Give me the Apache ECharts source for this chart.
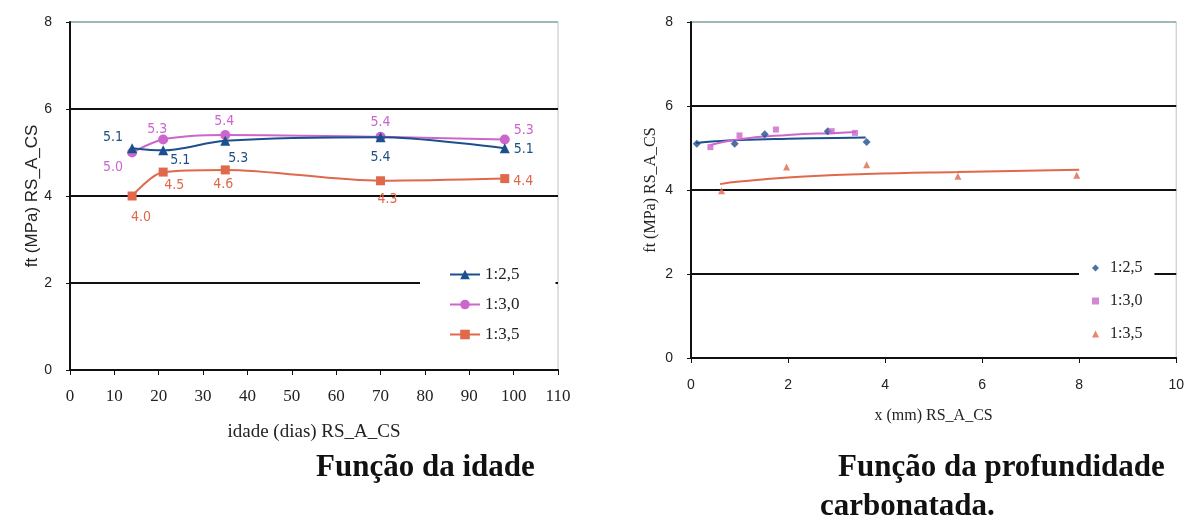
<!DOCTYPE html>
<html>
<head>
<meta charset="utf-8">
<script src="https://cdn.jsdelivr.net/npm/echarts@6/dist/echarts.min.js"></script>
<style>
  html, body { margin: 0; padding: 0; background: #fff; }
  #chart { width: 1187px; height: 517px; }
</style>
</head>
<body>
<div id="chart"></div>
<script>
// left chart: ft vs idade (dias)
const idade = [14, 21, 35, 70, 98];
const ageTicks = [0, 10, 20, 30, 40, 50, 60, 70, 80, 90, 100, 110];
const age25 = [5.1, 5.05, 5.27, 5.35, 5.1];
const age30 = [5.0, 5.3, 5.4, 5.36, 5.3];
const age35 = [4.0, 4.55, 4.6, 4.35, 4.4];
const ageLabels25 = ['5.1', '5.1', '5.3', '5.4', '5.1'];
const ageLabels30 = ['5.0', '5.3', '5.4', '5.4', '5.3'];
const ageLabels35 = ['4.0', '4.5', '4.6', '4.3', '4.4'];

// right chart: ft vs x (mm), measured points
const depth25 = [0.12, 0.9, 1.52, 2.82, 3.62];
const ft25 = [5.1, 5.1, 5.33, 5.4, 5.14];
const depth30 = [0.4, 1.0, 1.75, 2.9, 3.38];
const ft30 = [5.02, 5.3, 5.44, 5.4, 5.36];
const depth35 = [0.63, 1.97, 3.62, 5.5, 7.95];
const ft35 = [3.98, 4.55, 4.6, 4.33, 4.35];

// trend lines
const trendX25 = [0.1, 0.5, 1.0, 2.0, 3.0, 3.6];
const trendY25 = [5.12, 5.16, 5.19, 5.22, 5.24, 5.25];
const trendX30 = [0.4, 1.0, 2.0, 3.0, 3.4];
const trendY30 = [5.07, 5.21, 5.31, 5.36, 5.38];
const trendX35 = [0.6, 1.0, 2.0, 3.6, 5.5, 8.0];
const trendY35 = [4.14, 4.2, 4.3, 4.38, 4.43, 4.48];

const names = ['1:2,5', '1:3,0', '1:3,5'];
const blue = '#1c4f8e';
const pink = '#cc66cc';
const orange = '#e0684b';

// where each data label sits around its point
const pos25 = [['left', [0, -11]], ['right', [-2, 10]], ['bottom', [13, 2]], ['bottom', [0, 4]], ['right', [0, 1]]];
const pos30 = [['left', [0, 15]], ['top', [-6, 6]], ['top', [-1, 2]], ['top', [0, 2]], ['right', [0, -9]]];
const pos35 = [['bottom', [9, 6]], ['bottom', [11, -2]], ['bottom', [-2, -1]], ['bottom', [7, 3]], ['right', [0, 3]]];

function pairs(xs, ys) {
    return xs.map((x, i) => [x, ys[i]]);
}

function labelled(xs, ys, texts, positions) {
    return xs.map((x, i) => ({
        value: [x, ys[i]],
        label: { position: positions[i][0], offset: positions[i][1], formatter: texts[i] }
    }));
}

const chart = echarts.init(document.getElementById('chart'));

const yAxisBase = {
    type: 'value',
    min: 0,
    max: 8,
    interval: 2,
    name: 'ft (MPa) RS_A_CS',
    nameLocation: 'middle',
    axisLine: { show: true, lineStyle: { color: '#111', width: 2 } },
    axisTick: { show: true, length: 4, lineStyle: { color: '#111' } },
    axisLabel: { color: '#222', fontFamily: 'Liberation Sans', fontSize: 14, margin: 18 },
    splitLine: { show: true, lineStyle: { color: ['#111', '#111', '#111', '#111', '#9fb8b8'], width: 2 } }
};

const lineLabel = (color) => ({
    show: true,
    color: color,
    fontFamily: 'DejaVu Sans Condensed',
    fontSize: 14,
    distance: 4
});

const titleFont = { fontFamily: 'Liberation Serif', fontWeight: 'bold', fontSize: 31, color: '#111' };

const option = {
    animation: false,
    title: [
        { text: 'Função da idade', left: 311, top: 447, textStyle: titleFont },
        { text: 'Função da profundidade', left: 833, top: 447, textStyle: titleFont },
        { text: 'carbonatada.', left: 815, top: 486, textStyle: titleFont }
    ],
    grid: [
        { left: 70, top: 22, width: 488, height: 348, show: true, borderColor: '#b8c4c4', borderWidth: 1 },
        { left: 691, top: 22, width: 488, height: 336, show: true, borderColor: '#b8c4c4', borderWidth: 1 }
    ],
    xAxis: [
        {
            gridIndex: 0, type: 'value', min: ageTicks[0], max: ageTicks[ageTicks.length - 1], interval: 10,
            name: 'idade (dias) RS_A_CS', nameLocation: 'middle', nameGap: 53,
            nameTextStyle: { fontFamily: 'Liberation Serif', fontSize: 19, color: '#222' },
            axisLine: { lineStyle: { color: '#111', width: 2 } },
            axisTick: { length: 5, lineStyle: { color: '#111' } },
            axisLabel: { color: '#222', fontFamily: 'Liberation Serif', fontSize: 17, margin: 18 },
            splitLine: { show: false }
        },
        {
            gridIndex: 1, type: 'value', min: 0, max: 10, interval: 2,
            name: 'x (mm) RS_A_CS', nameLocation: 'middle', nameGap: 50,
            nameTextStyle: { fontFamily: 'Liberation Serif', fontSize: 16, color: '#222' },
            axisLine: { lineStyle: { color: '#111', width: 2 } },
            axisTick: { length: 5, lineStyle: { color: '#111' } },
            axisLabel: { color: '#222', fontFamily: 'Liberation Sans', fontSize: 14, margin: 20 },
            splitLine: { show: false }
        }
    ],
    yAxis: [
        Object.assign({}, yAxisBase, {
            gridIndex: 0, nameGap: 26,
            nameTextStyle: { fontFamily: 'Liberation Sans', fontSize: 17, color: '#222' }
        }),
        Object.assign({}, yAxisBase, {
            gridIndex: 1, nameGap: 32,
            nameTextStyle: { fontFamily: 'Liberation Serif', fontSize: 16, color: '#222' }
        })
    ],
    legend: [
        {
            data: names, orient: 'vertical', left: 420, top: 258,
            backgroundColor: '#fff', padding: [8, 36, 8, 29],
            itemWidth: 30, itemHeight: 12, itemGap: 13,
            textStyle: { fontFamily: 'Liberation Serif', fontSize: 17, color: '#222' }
        },
        {
            data: names.map(n => n + ' '), orient: 'vertical', left: 1079, top: 254,
            backgroundColor: '#fff', padding: [6, 12, 6, 13],
            itemWidth: 7, itemHeight: 7, itemGap: 17,
            formatter: n => n.trim(),
            textStyle: { fontFamily: 'Liberation Serif', fontSize: 16, color: '#222', padding: [0, 0, 0, 6] }
        }
    ],
    series: [
        {
            name: names[0], type: 'line', xAxisIndex: 0, yAxisIndex: 0, smooth: 0.3,
            symbol: 'triangle', symbolSize: 10, color: blue,
            lineStyle: { width: 2, color: blue },
            label: lineLabel('#1f4f80'),
            data: labelled(idade, age25, ageLabels25, pos25), z: 3
        },
        {
            name: names[1], type: 'line', xAxisIndex: 0, yAxisIndex: 0, smooth: 0.3,
            symbol: 'circle', symbolSize: 10, color: pink,
            lineStyle: { width: 2, color: pink },
            label: lineLabel(pink),
            data: labelled(idade, age30, ageLabels30, pos30), z: 2
        },
        {
            name: names[2], type: 'line', xAxisIndex: 0, yAxisIndex: 0, smooth: 0.3,
            symbol: 'rect', symbolSize: 9, color: orange,
            lineStyle: { width: 2, color: orange },
            label: lineLabel(orange),
            data: labelled(idade, age35, ageLabels35, pos35), z: 2
        },
        {
            name: names[0] + ' ', type: 'scatter', xAxisIndex: 1, yAxisIndex: 1,
            symbol: 'diamond', symbolSize: 8, color: blue, data: pairs(depth25, ft25), z: 4
        },
        {
            name: names[1] + ' ', type: 'scatter', xAxisIndex: 1, yAxisIndex: 1,
            symbol: 'rect', symbolSize: 6, color: pink, data: pairs(depth30, ft30), z: 4
        },
        {
            name: names[2] + ' ', type: 'scatter', xAxisIndex: 1, yAxisIndex: 1,
            symbol: 'triangle', symbolSize: 7, color: orange, data: pairs(depth35, ft35), z: 4
        },
        {
            type: 'line', xAxisIndex: 1, yAxisIndex: 1, smooth: true, showSymbol: false,
            lineStyle: { width: 2, color: blue }, data: pairs(trendX25, trendY25), z: 3
        },
        {
            type: 'line', xAxisIndex: 1, yAxisIndex: 1, smooth: true, showSymbol: false,
            lineStyle: { width: 2, color: pink }, data: pairs(trendX30, trendY30), z: 3
        },
        {
            type: 'line', xAxisIndex: 1, yAxisIndex: 1, smooth: true, showSymbol: false,
            lineStyle: { width: 2, color: orange }, data: pairs(trendX35, trendY35), z: 3
        }
    ]
};

chart.setOption(option);
</script>
</body>
</html>
